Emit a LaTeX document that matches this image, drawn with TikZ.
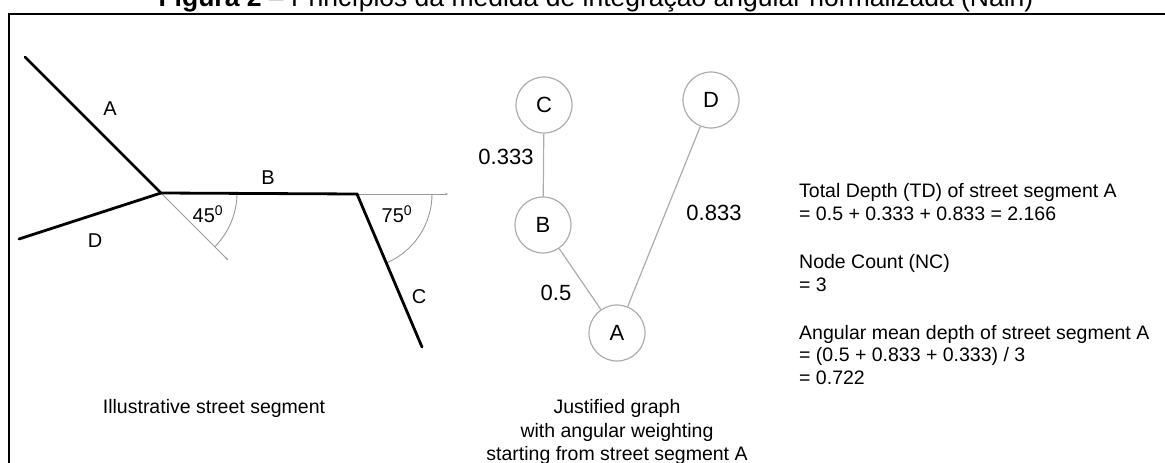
\documentclass[tikz,border=0pt]{standalone}
\usepackage{fontspec}
\setmainfont{Liberation Sans}
\usetikzlibrary{arrows.meta}
\begin{document}
\begin{tikzpicture}[x=1pt,y=-1pt,
  street/.style={line width=2.8pt,black,line cap=round},
  thin/.style={line width=0.9pt,gray!80},
  gnode/.style={circle,draw=gray!65,line width=1.2pt,minimum size=56pt,inner sep=0pt,font=\fontsize{22}{22}\selectfont},
  gedge/.style={line width=1.2pt,gray!65},
  lbl/.style={font=\fontsize{20}{20}\selectfont,inner sep=0pt},
  wlbl/.style={font=\fontsize{22}{22}\selectfont,inner sep=0pt},
  txt/.style={font=\fontsize{19.5}{22}\selectfont,inner sep=0pt,anchor=west},
  captext/.style={font=\fontsize{19.5}{22}\selectfont,inner sep=0pt,align=center}
]
\useasboundingbox (0,0) rectangle (1165,463);
% title
\node[anchor=base,inner sep=0pt,font=\fontsize{26.5}{28}\selectfont] (title) at (596,6) {\textbf{Figura 2} – Princípios da medida de integração angular normalizada (Nain)};
% frame
\draw[line width=1.6pt] (9,480) -- (9,14) -- (1175,14);
% left figure
\coordinate (Aend) at (25,57);
\coordinate (J1) at (161,193);
\coordinate (Dend) at (19,239);
\coordinate (J2) at (357,194);
\coordinate (Cend) at (422,347);
\coordinate (ext) at (448,194);
\coordinate (diag) at (228,260);
\draw[thin,-{Stealth[length=3pt,width=2.5pt]}] (J1) -- (diag);
\draw[thin,-{Stealth[length=3pt,width=2.5pt]}] (J2) -- (ext);
\draw[thin] (J1) ++(0:76) arc[start angle=0,end angle=45,radius=76];
\draw[thin] (J2) ++(0:75) arc[start angle=0,end angle=67,radius=75];
\draw[street] (Aend) -- (J1) -- (J2) -- (Cend);
\draw[street] (Dend) -- (J1);
\node[lbl] (la) at (110,109) {A};
\node[lbl] (lb) at (268,178) {B};
\node[lbl] (lc) at (419,297) {C};
\node[lbl] (ld) at (95,241) {D};
\node[lbl] (a45) at (208,214) {45\textsuperscript{0}};
\node[lbl] (a75) at (397,214) {75\textsuperscript{0}};
\node[captext] (cap1) at (214,408) {Illustrative street segment};
% graph
\node[gnode] (C) at (544,105) {C};
\node[gnode] (D) at (711,100) {D};
\node[gnode] (B) at (543,225) {B};
\node[gnode] (A) at (617,333) {A};
\draw[gedge] (C) -- (B);
\draw[gedge] (B) -- (A);
\draw[gedge] (A) -- (D);
\node[wlbl] (w1) at (506,157) {0.333};
\node[wlbl] (w2) at (556,293) {0.5};
\node[wlbl] (w3) at (714,213) {0.833};
\node[captext] (cap2a) at (617,408) {Justified graph};
\node[captext] (cap2b) at (617,432) {with angular weighting};
\node[captext] (cap2c) at (617,455) {starting from street segment A};
% right text
\node[txt] (t1) at (799,192) {Total Depth (TD) of street segment A};
\node[txt] (t2) at (799,214) {= 0.5 + 0.333 + 0.833 = 2.166};
\node[txt] (t3) at (799,263) {Node Count (NC)};
\node[txt] (t4) at (799,285) {= 3};
\node[txt] (t5) at (799,334) {Angular mean depth of street segment A};
\node[txt] (t6) at (799,356) {= (0.5 + 0.833 + 0.333) / 3};
\node[txt] (t7) at (799,378) {= 0.722};
\end{tikzpicture}
\end{document}
